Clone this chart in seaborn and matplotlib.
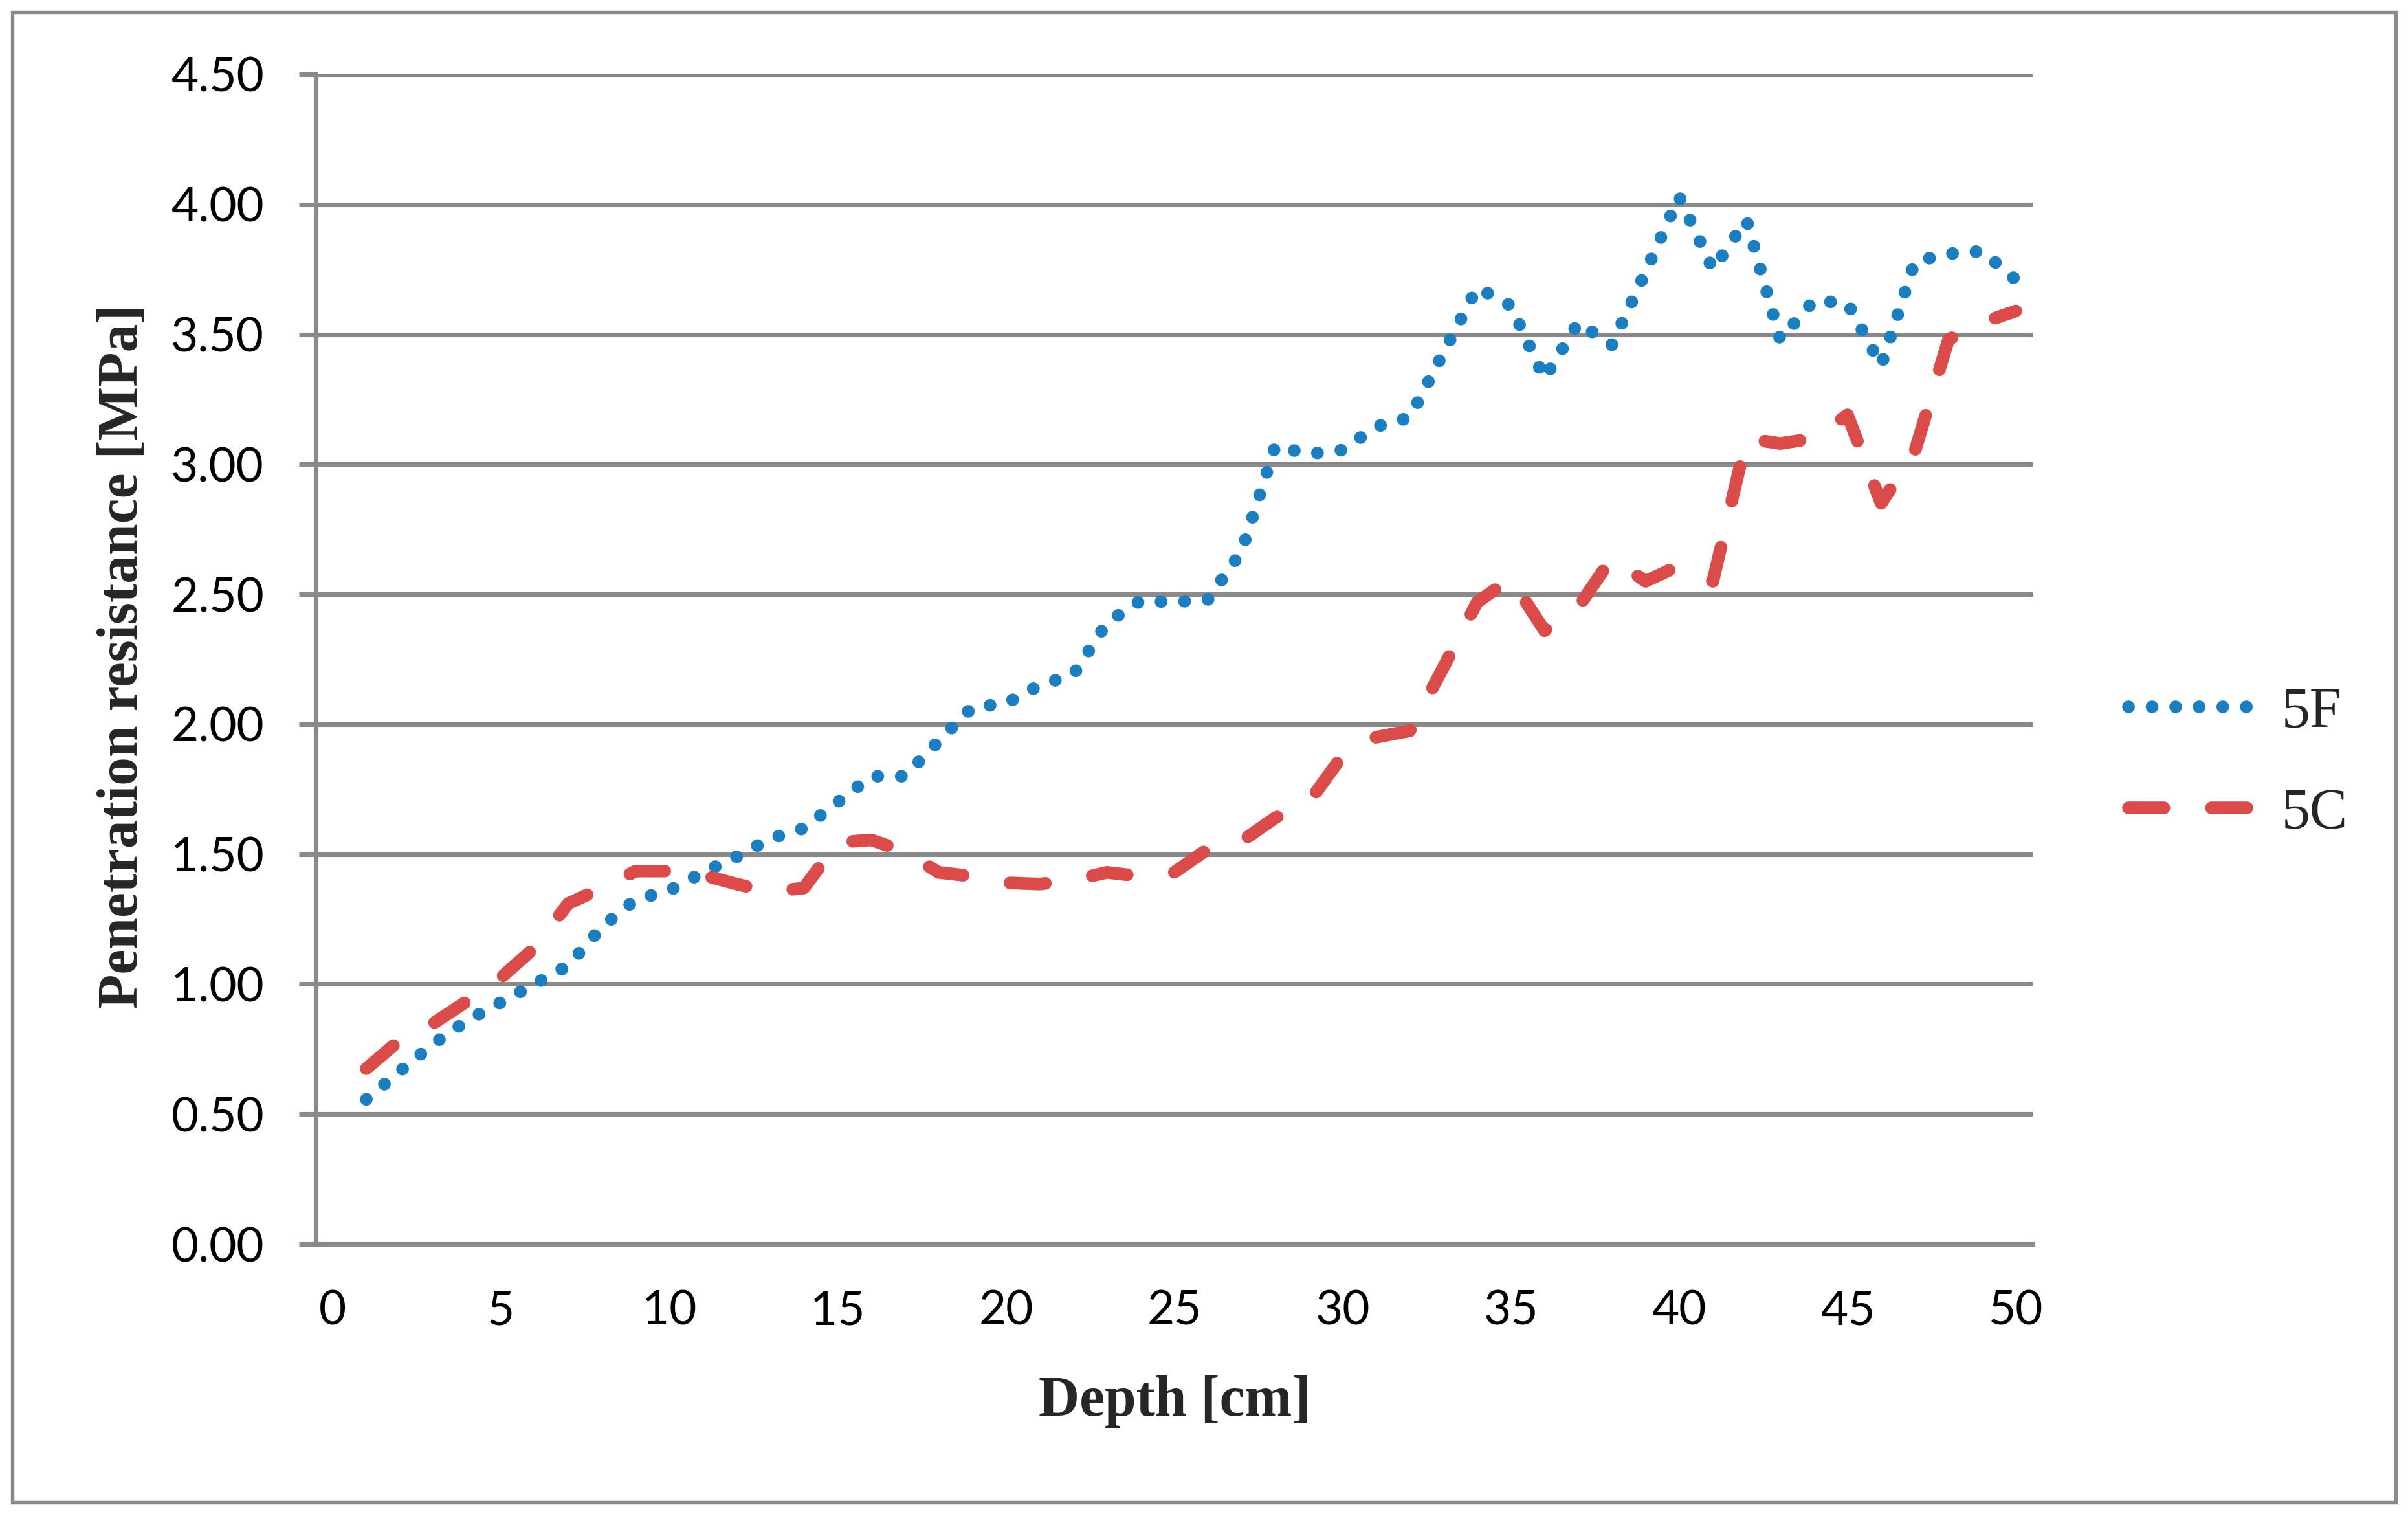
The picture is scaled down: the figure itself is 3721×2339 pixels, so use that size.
import numpy as np
import pandas as pd
import matplotlib
matplotlib.use("Agg")
import matplotlib.pyplot as plt
import seaborn as sns
from matplotlib.lines import Line2D
from matplotlib.patches import Rectangle

# ---------------- data ----------------
depth = list(range(1, 51))
series_5F = [0.557, 0.665, 0.771, 0.860, 0.930, 1.000, 1.072, 1.220, 1.325, 1.360,
             1.430, 1.490, 1.560, 1.600, 1.700, 1.800, 1.800, 1.935, 2.065, 2.080,
             2.150, 2.190, 2.390, 2.475, 2.470, 2.480, 2.665, 3.070, 3.040, 3.055,
             3.145, 3.180, 3.430, 3.680, 3.610, 3.330, 3.545, 3.460, 3.740, 4.030,
             3.750, 3.940, 3.480, 3.630, 3.620, 3.380, 3.780, 3.810, 3.820, 3.710]
series_5C = [0.675, 0.785, 0.850, 0.935, 1.025, 1.140, 1.310, 1.370, 1.435, 1.435,
             1.420, 1.385, 1.355, 1.370, 1.545, 1.555, 1.510, 1.430, 1.415, 1.390,
             1.385, 1.400, 1.430, 1.415, 1.430, 1.520, 1.550, 1.640, 1.700, 1.880,
             1.950, 1.975, 2.220, 2.470, 2.560, 2.360, 2.450, 2.640, 2.550, 2.610,
             2.550, 3.100, 3.080, 3.100, 3.190, 2.850, 3.050, 3.480, 3.545, 3.590]
labels = ["5F", "5C"]
x_ticks = [0, 5, 10, 15, 20, 25, 30, 35, 40, 45, 50]
y_ticks = [0.0, 0.5, 1.0, 1.5, 2.0, 2.5, 3.0, 3.5, 4.0, 4.5]
x_label = "Depth [cm]"
y_label = "Penetration resistance [MPa]"

df = pd.DataFrame({"Depth": depth, "5F": series_5F, "5C": series_5C})

# ---------------- style ----------------
sns.set_theme(style="white")
plt.rcParams["font.family"] = ["Lato", "DejaVu Sans"]

BLUE = "#1A7EC1"
RED = "#DB4B4A"
GRID = "#898989"
LW = 4.7

W, H = 3721, 2339
DPI = 300
fig = plt.figure(figsize=(W / DPI, H / DPI), dpi=DPI)
fig.patch.set_facecolor("white")

ax = fig.add_axes([488 / W, 1 - 1922 / H, (3141 - 488) / W, (1922 - 115) / H])
ax.set_facecolor("white")

dot_style = (0, (0.01, 1.85))
dash_style = (0, (2.8, 3.75))

sns.lineplot(data=df, x="Depth", y="5F", ax=ax, color=BLUE, linewidth=LW,
             linestyle=dot_style, dash_capstyle="round", solid_capstyle="round",
             legend=False, zorder=3)
sns.lineplot(data=df, x="Depth", y="5C", ax=ax, color=RED, linewidth=LW,
             linestyle=dash_style, dash_capstyle="round", solid_capstyle="round",
             legend=False, zorder=3)

ax.set_xlim(-0.5, 50.5)
ax.set_ylim(0, 4.5)
ax.set_xticks(x_ticks)
ax.set_yticks(y_ticks)
ax.set_yticklabels([f"{v:.2f}" for v in y_ticks])
ax.set_xticklabels([str(v) for v in x_ticks])

ax.yaxis.grid(True, color=GRID, linewidth=1.7, zorder=0)
ax.xaxis.grid(False)
ax.set_axisbelow(True)

for side in ["top", "right"]:
    ax.spines[side].set_visible(False)
for side in ["left", "bottom"]:
    ax.spines[side].set_color(GRID)
    ax.spines[side].set_linewidth(1.7)

ax.tick_params(axis="y", which="major", direction="out", length=6.2, width=1.7,
               color=GRID, pad=13, labelsize=17.5, labelcolor="black", left=True)
ax.tick_params(axis="x", which="major", length=0, pad=17, labelsize=17.5,
               labelcolor="black", bottom=True)
ax.set_xlabel("")
ax.set_ylabel("")

serif = ["Liberation Serif", "DejaVu Serif"]
fig.text(1815 / W, 1 - 2166 / H, x_label, ha="center", va="center",
         fontsize=21, fontweight="bold", family=serif)
fig.text(190 / W, 1 - 1014 / H, y_label, ha="center", va="center",
         rotation=90, fontsize=21, fontweight="bold", family=serif)

handles = [
    Line2D([0], [0], color=BLUE, linewidth=LW, linestyle=dot_style,
           dash_capstyle="round"),
    Line2D([0], [0], color=RED, linewidth=LW, linestyle=dash_style,
           dash_capstyle="round"),
]
fig.legend(handles, labels, loc="center left", bbox_to_anchor=(3289 / W, 1 - 1179 / H),
           frameon=False, borderpad=0, borderaxespad=0, handlelength=2.15,
           handletextpad=0.55, labelspacing=0.85,
           prop={"family": serif, "size": 21})

fig.add_artist(Rectangle((19 / W, 18 / H), (3702 - 19) / W, (2321 - 19) / H,
                         transform=fig.transFigure, fill=False,
                         edgecolor=GRID, linewidth=1.3))

fig.savefig("out.png", dpi=DPI, facecolor="white")
